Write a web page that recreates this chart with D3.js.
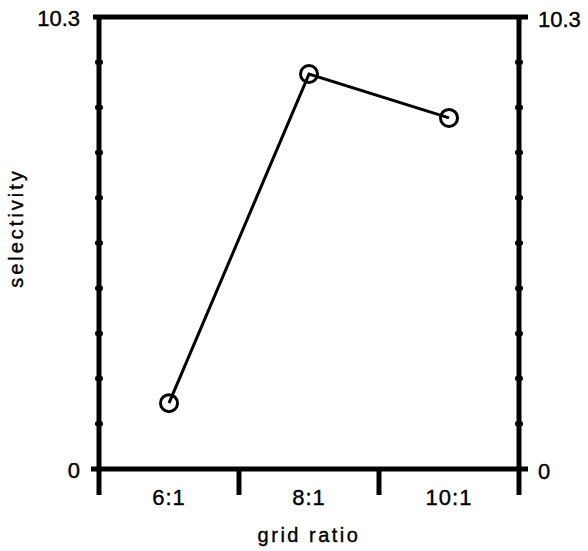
<!DOCTYPE html>
<html>
<head>
<meta charset="utf-8">
<script src="https://cdn.jsdelivr.net/npm/d3@7.9.0/dist/d3.min.js"></script>
<style>
  body { margin: 0; background: #fff; }
  svg { display: block; font-family: "Liberation Sans", Arial, sans-serif; }
  svg text { fill: #000; stroke: #000; stroke-width: 0.4px; }
</style>
</head>
<body>
<svg id="chart" width="588" height="551"></svg>
<script>
const categories = ['6:1', '8:1', '10:1'];
const selectivity = [1.5, 9.0, 8.0];
const yTickLabels = [0, 10.3];
const yMax = 10.3;
const minorCount = 10; // dots along the side axes

const svg = d3.select('#chart');
const plotL = 99, plotR = 519, plotT = 17, plotB = 469;

const x = d3.scaleBand().domain(categories).range([plotL, plotR]).padding(0);
const y = d3.scaleLinear().domain([0, yMax]).range([plotB, plotT]);

const ink = '#000';

// frame
svg.append('line')
  .attr('x1', plotL - 6).attr('x2', plotR + 9)
  .attr('y1', y(yMax)).attr('y2', y(yMax))
  .attr('stroke', ink).attr('stroke-width', 5);
svg.append('line')
  .attr('x1', plotL - 8).attr('x2', plotR + 9)
  .attr('y1', y(0)).attr('y2', y(0))
  .attr('stroke', ink).attr('stroke-width', 5);

[plotL, plotR].forEach((xx) => {
  svg.append('line')
    .attr('x1', xx).attr('x2', xx)
    .attr('y1', y(yMax) - 2).attr('y2', y(0) + 26)
    .attr('stroke', ink).attr('stroke-width', 5);

  // little bumps for the minor ticks
  d3.range(1, minorCount).forEach((i) => {
    svg.append('rect')
      .attr('x', xx - 4).attr('y', y(yMax * i / minorCount) - 2.5)
      .attr('width', 8).attr('height', 5)
      .attr('rx', 2)
      .attr('fill', ink);
  });
});

// category separators below the baseline
categories.slice(1).forEach((c) => {
  svg.append('line')
    .attr('x1', x(c)).attr('x2', x(c))
    .attr('y1', y(0)).attr('y2', y(0) + 26)
    .attr('stroke', ink).attr('stroke-width', 5);
});

// category labels
svg.selectAll('.xlab')
  .data(categories)
  .join('text')
  .attr('class', 'xlab')
  .attr('x', (d) => x(d) + x.bandwidth() / 2)
  .attr('y', 505)
  .attr('text-anchor', 'middle')
  .attr('font-size', '22px')
  .attr('letter-spacing', 1)
  .text((d) => d);

// y labels on both sides
yTickLabels.forEach((v) => {
  svg.append('text')
    .attr('x', 80).attr('y', y(v) + 9)
    .attr('text-anchor', 'end')
    .attr('font-size', '22px')
    .text(v);
  svg.append('text')
    .attr('x', 538).attr('y', y(v) + 10)
    .attr('text-anchor', 'start')
    .attr('font-size', '22px')
    .text(v);
});

// axis titles
svg.append('text')
  .attr('x', 309).attr('y', 542)
  .attr('text-anchor', 'middle')
  .attr('font-size', '20px')
  .attr('letter-spacing', 2.5)
  .text('grid ratio');

svg.append('text')
  .attr('transform', 'translate(23,228) rotate(-90)')
  .attr('text-anchor', 'middle')
  .attr('font-size', '20px')
  .attr('letter-spacing', 3)
  .text('selectivity');

// data line and markers
const pts = categories.map((c, i) => ({ c, v: selectivity[i] }));
const line = d3.line()
  .x((d) => x(d.c) + x.bandwidth() / 2)
  .y((d) => y(d.v));

svg.append('path')
  .datum(pts)
  .attr('d', line)
  .attr('fill', 'none')
  .attr('stroke', ink)
  .attr('stroke-width', 3);

svg.selectAll('.pt')
  .data(pts)
  .join('circle')
  .attr('class', 'pt')
  .attr('cx', (d) => x(d.c) + x.bandwidth() / 2)
  .attr('cy', (d) => y(d.v))
  .attr('r', 8.5)
  .attr('fill', 'none')
  .attr('stroke', ink)
  .attr('stroke-width', 3);
</script>
</body>
</html>
